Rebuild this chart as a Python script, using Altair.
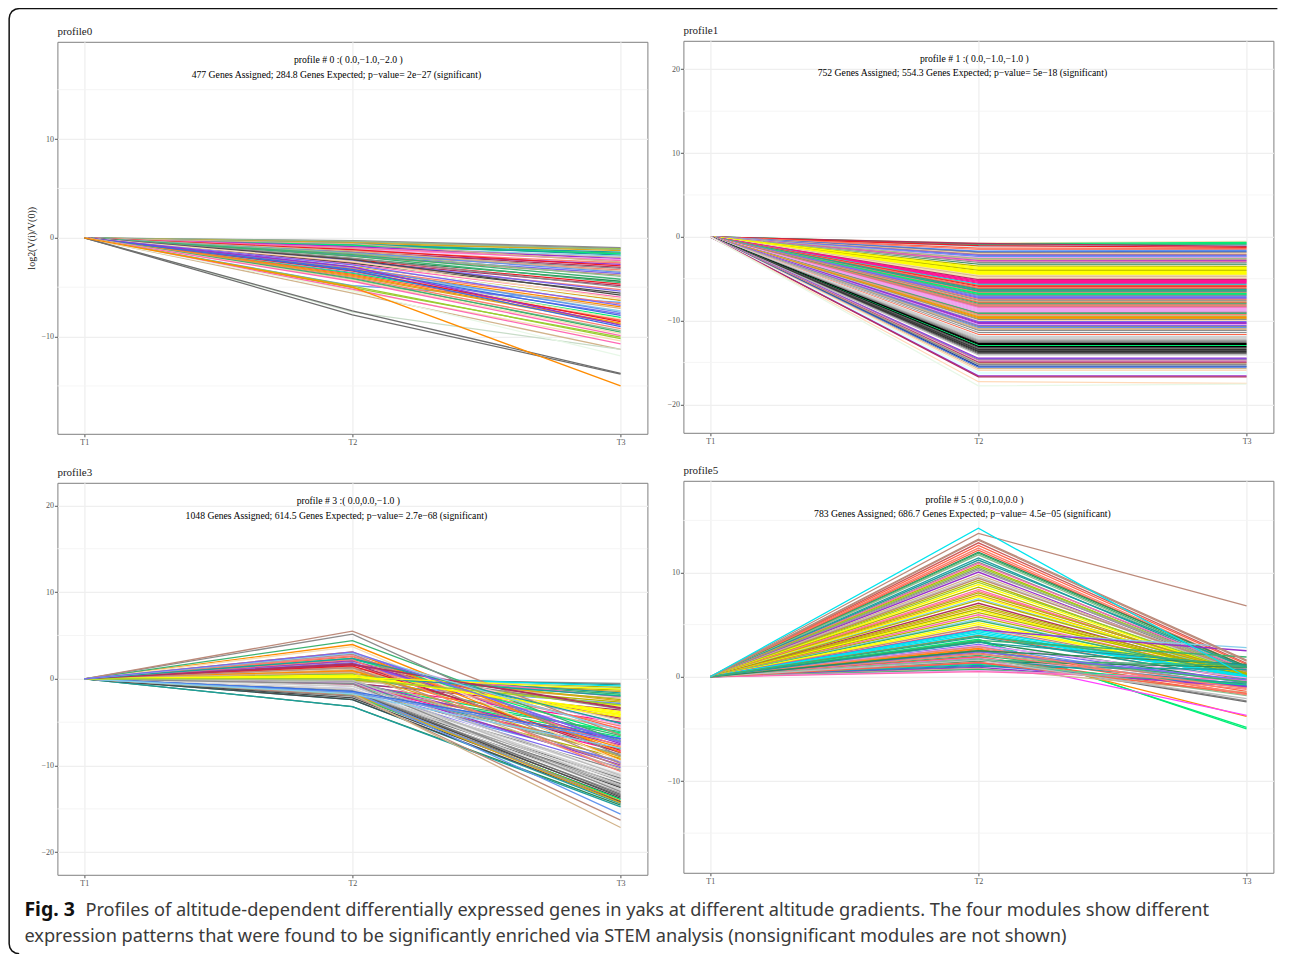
import altair as alt
import pandas as pd

TIMES = ["T1", "T2", "T3"]
SERIF = "Liberation Serif"

PALETTE = {
    "y": "#ffff00", "o": "#b5b500", "k": "#000000", "d": "#4a4a4a", "g": "#8c8c8c", "l": "#d0d0d0",
    "w": "#f0f0f0", "g1": "#bdbdbd", "g2": "#a0a0a0", "g3": "#6e6e6e", "g4": "#303030", "c": "#00e5ee",
    "t": "#1e9e9e", "n": "#00ee76", "m": "#3cb371", "p": "#ff1493", "h": "#ff69b4", "v": "#eea2ee",
    "u": "#9932cc", "s": "#7b68ee", "b": "#3a6fe0", "a": "#6495ed", "z": "#87ceeb", "r": "#ee1c25",
    "e": "#ff6347", "f": "#fa8072", "q": "#bc8a7a", "x": "#f5deb3", "i": "#d2b48c", "j": "#ff8c00",
    "G": "#daa520", "D": "#2e8b57", "O": "#8fbc8f", "M": "#b03060", "N": "#27408b", "L": "#9acd32",
    "C": "#e0ffff", "P": "#ffdab9", "A": "#c8dcc8", "B": "#e8f8e8", "E": "#cd5c5c", "H": "#ff40ff",
    "W": "#ffffff",
}

# each row: colour key, value at T2, value at T3 (T1 is always 0)
profile0 = [
    ("g",-0.28,-1.0),("g",-0.4,-1.08),("L",-0.7,-1.12),("O",-0.35,-1.2),("G",-0.5,-1.3),("t",-0.7,-1.45),
    ("m",-0.85,-1.55),("n",-0.75,-1.62),("t",-0.6,-1.75),("z",-0.95,-1.85),("i",-1.1,-1.98),("u",-0.9,-2.1),
    ("v",-1.2,-2.2),("h",-1.0,-2.32),("i",-0.6,-2.45),("f",-1.3,-2.55),("u",-1.5,-2.7),("r",-1.2,-2.85),
    ("M",-1.4,-3.0),("g",-1.6,-3.1),("f",-1.7,-3.25),("i",-1.35,-3.4),("a",-1.5,-3.5),("s",-1.8,-3.62),
    ("q",-1.9,-3.78),("O",-1.55,-3.9),("w",-2.0,-4.05),("m",-1.7,-4.2),("D",-2.1,-4.4),("m",-1.85,-4.55),
    ("r",-2.2,-4.7),("M",-2.4,-4.85),("g",-2.05,-5.0),("f",-2.5,-5.25),("s",-2.3,-5.4),("d",-2.6,-5.6),
    ("d",-2.2,-5.8),("h",-2.7,-6.0),("x",-2.4,-6.15),("G",-2.9,-6.35),("C",-2.8,-6.5),("a",-4.85,-6.55),
    ("f",-3.1,-6.7),("s",-2.75,-6.85),("j",-3.2,-7.0),("i",-3.4,-7.15),("z",-3.3,-7.4),("a",-3.0,-7.55),
    ("s",-3.5,-7.7),("b",-3.2,-7.85),("n",-3.6,-8.05),("x",-3.4,-8.2),("e",-3.7,-8.35),("r",-3.35,-8.5),
    ("j",-3.8,-8.65),("G",-3.9,-8.75),("u",-2.95,-8.85),("b",-3.3,-9.0),("f",-4.0,-9.2),("O",-4.2,-9.4),
    ("m",-4.1,-9.55),("x",-4.3,-9.7),("h",-4.4,-9.9),("L",-5.05,-10.05),("L",-4.9,-10.2),("x",-5.3,-10.45),
    ("h",-5.2,-10.75),("i",-5.6,-11.3),("A",-7.5,-11.3),("B",-5.4,-11.95),("g3",-7.4,-13.72),("g3",-7.8,-13.8),
    ("j",-5.0,-15.0),
]

profile1 = [
    ("x",-0.76,-0.56),("n",-0.85,-0.68),("n",-1.0,-0.8),("m",-0.9,-0.92),("z",-1.1,-1.03),("M",-0.8,-1.15),
    ("r",-1.05,-1.27),("e",-1.35,-1.39),("f",-1.5,-1.51),("a",-1.7,-1.63),("b",-1.8,-1.75),("g",-1.9,-1.87),
    ("P",-2.0,-1.99),("q",-2.1,-2.11),("s",-2.2,-2.23),("a",-2.35,-2.35),("v",-2.5,-2.47),("O",-2.6,-2.58),
    ("i",-2.7,-2.7),("u",-2.85,-2.82),("h",-2.9,-2.94),("g",-3.05,-3.06),("l",-3.2,-3.18),("D",-3.3,-3.3),
    ("w",-3.4,-3.42),("o",-3.5,-3.54),("y",-3.66,-3.66),("y",-3.78,-3.78),("y",-3.9,-3.9),("o",-4.02,-4.02),
    ("y",-4.14,-4.14),("y",-4.26,-4.26),("y",-4.38,-4.38),("y",-4.5,-4.5),("x",-4.62,-4.62),("i",-4.74,-4.74),
    ("x",-4.86,-4.86),("x",-4.98,-4.98),("M",-5.1,-5.1),("p",-5.22,-5.22),("p",-5.33,-5.33),("p",-5.45,-5.45),
    ("p",-5.57,-5.57),("c",-5.69,-5.69),("e",-5.81,-5.81),("r",-5.93,-5.93),("f",-6.05,-6.05),("e",-6.17,-6.17),
    ("t",-6.29,-6.29),("m",-6.41,-6.41),("t",-6.53,-6.53),("f",-6.65,-6.65),("n",-6.77,-6.77),("n",-6.89,-6.89),
    ("g",-7.0,-7.0),("a",-7.12,-7.12),("s",-7.24,-7.24),("s",-7.36,-7.36),("f",-7.48,-7.48),("g",-7.6,-7.6),
    ("i",-7.72,-7.72),("e",-7.84,-7.84),("m",-7.96,-7.96),("q",-8.08,-8.08),("f",-8.2,-8.2),("q",-8.32,-8.32),
    ("h",-8.44,-8.44),("v",-8.56,-8.56),("v",-8.68,-8.68),("v",-8.8,-8.8),("v",-8.92,-8.92),("g",-9.1,-9.04),
    ("m",-9.16,-9.16),("f",-9.28,-9.28),("i",-9.4,-9.4),("G",-9.52,-9.52),("j",-9.64,-9.64),("G",-9.76,-9.76),
    ("g",-9.88,-9.88),("x",-10.0,-10.0),("s",-10.12,-10.12),("u",-10.24,-10.24),("u",-10.36,-10.36),("v",-10.48,-10.48),
    ("s",-10.6,-10.6),("g",-10.72,-10.72),("a",-10.84,-10.84),("i",-10.96,-10.96),("i",-11.08,-11.08),("g",-11.2,-11.2),
    ("w",-11.32,-11.32),("g",-11.44,-11.44),("w",-11.56,-11.56),("e",-11.68,-11.68),("w",-11.8,-11.8),("l",-11.92,-11.92),
    ("l",-12.04,-12.04),("l",-12.16,-12.16),("g1",-12.28,-12.28),("g2",-12.4,-12.4),("g",-12.52,-12.52),("g3",-12.64,-12.64),
    ("k",-12.76,-12.76),("k",-12.88,-12.88),("n",-13.0,-13.0),("k",-13.12,-13.12),("d",-13.24,-13.24),("g3",-13.36,-13.36),
    ("g4",-13.48,-13.48),("d",-13.6,-13.6),("g4",-13.72,-13.72),("d",-13.84,-13.84),("g3",-13.96,-13.96),("g1",-14.08,-14.08),
    ("u",-14.5,-14.5),("s",-14.62,-14.62),("q",-14.74,-14.74),("v",-14.86,-14.86),("M",-14.98,-14.98),("i",-15.1,-15.1),
    ("g",-15.22,-15.22),("N",-15.45,-15.45),("b",-15.57,-15.57),("i",-15.75,-15.75),("P",-15.95,-15.95),("C",-16.2,-16.2),
    ("C",-16.32,-16.32),("u",-16.6,-16.6),("M",-16.72,-16.72),("P",-17.3,-17.5),("B",-17.8,-17.6),
]

profile3 = [
    ("g",-0.05,-0.54),("t",0.1,-0.7),("c",0.25,-0.85),("o",0.0,-1.0),("z",0.3,-1.16),("o",-0.2,-1.31),
    ("G",0.15,-1.47),("t",0.45,-1.62),("m",0.4,-1.78),("n",0.2,-1.93),("h",0.9,-2.08),("i",-0.3,-2.24),
    ("o",0.6,-2.39),("G",0.8,-2.55),("o",-0.1,-2.7),("a",-0.6,-2.85),("L",0.05,-3.01),("y",0.3,-3.16),
    ("M",1.65,-3.32),("g",1.2,-3.47),("M",-0.5,-3.62),("y",0.35,-3.78),("y",0.42,-3.93),("y",0.28,-4.09),
    ("y",0.5,-4.24),("x",1.1,-4.39),("M",1.6,-4.55),("q",2.0,-4.7),("x",2.4,-4.86),("p",-0.7,-5.01),
    ("t",2.25,-5.16),("v",2.75,-5.32),("f",1.4,-5.47),("v",-0.9,-5.63),("e",2.55,-5.78),("i",1.05,-5.93),
    ("m",-1.2,-6.09),("n",-0.55,-6.24),("n",2.35,-6.4),("m",0.55,-6.55),("n",-1.0,-6.7),("b",-1.45,-6.86),
    ("s",1.85,-7.01),("e",-0.8,-7.17),("s",3.0,-7.32),("u",2.1,-7.47),("u",-0.35,-7.63),("f",2.65,-7.78),
    ("j",0.95,-7.94),("t",-1.1,-8.09),("r",1.5,-8.24),("p",-0.65,-8.4),("M",1.75,-8.55),("g",-0.95,-8.71),
    ("O",-0.25,-8.86),("G",0.7,-9.01),("o",-1.3,-9.17),("j",3.1,-9.32),("a",-1.55,-9.48),("s",-1.05,-9.63),
    ("q",2.85,-9.78),("u",-0.45,-9.94),("q",1.3,-10.09),("s",-1.25,-10.25),("i",0.75,-10.4),("g",-1.6,-10.55),
    ("f",2.2,-10.71),("w",-0.75,-10.86),("l",-1.15,-11.02),("g1",-0.15,-11.17),("l",-1.4,-11.32),("g3",-1.7,-11.48),
    ("l",-0.85,-11.63),("g2",-1.5,-11.79),("w",-1.0,-11.94),("g3",-1.75,-12.09),("g1",-0.4,-12.25),("g2",-1.35,-12.4),
    ("d",-1.9,-12.56),("l",-1.2,-12.71),("l",-1.65,-12.86),("g",-0.6,-13.02),("g2",-1.8,-13.17),("g3",-1.45,-13.33),
    ("g3",-2.0,-13.48),("d",-1.55,-13.63),("d",-2.2,-13.79),("n",-1.85,-13.94),("j",-1.6,-14.1),("a",-1.5,-14.25),
    ("t",-2.4,-14.4),("D",-3.2,-14.56),("t",-3.2,-14.78),("d",-2.4,-14.2),("G",-1.7,-14.3),
    ("a",-1.45,-15.6),("q",-1.9,-16.3),("i",-1.75,-17.15),
    ("j",3.95,-8.5),("x",3.7,-9.5),("m",4.4,-7.2),("g",5.15,-8.9),("q",5.5,-6.5),
    ("b",-1.45,-6.9),("a",-1.6,-7.2),("z",-1.75,-8.0),("t",0.3,-2.0),("y",0.45,-4.4),("y",0.3,-4.1),
    ("y",0.2,-1.2),("L",0.0,-3.0),("M",1.65,-3.4),("t",2.35,-5.1),("z",2.95,-6.0),("s",3.1,-7.3),
]

profile5 = [
    ("E",12.85,1.3),("e",12.6,1.2),("f",12.35,1.0),("e",12.15,0.9),("D",11.95,1.0),("m",11.85,0.8),
    ("O",11.7,0.7),("t",11.4,0.6),("t",11.2,0.9),("g",11.0,0.5),("h",10.87,0.7),("o",10.7,0.4),
    ("L",10.55,0.5),("g",10.4,0.3),("g2",10.25,0.6),("u",10.05,0.2),("i",9.8,0.4),("g1",9.6,0.3),
    ("q",9.45,0.5),("o",9.25,0.1),("L",9.05,0.3),("y",8.85,0.2),("o",8.6,0.1),("h",8.35,0.1),
    ("f",8.2,0.2),("o",8.05,0.35),("G",7.85,0.1),("y",7.7,0.2),("z",7.5,0.15),("o",7.35,0.3),
    ("M",7.05,0.1),("o",6.85,0.2),("G",6.7,0.05),("o",6.5,0.15),("y",6.35,0.1),("o",6.15,0.25),
    ("h",5.95,0.05),("o",5.75,0.1),("z",5.55,-0.1),("m",5.4,0.1),("y",5.2,-0.05),("y",5.0,0.0),
    ("q",4.8,-0.1),("f",4.6,-0.15),("z",4.4,2.8),("u",4.5,2.5),("c",4.45,0.1),("c",4.3,-0.05),
    ("c",4.15,0.0),("c",4.0,0.05),("e",3.95,-0.3),("t",3.8,-0.2),("n",3.6,-5.0),("n",3.45,-4.85),
    ("m",3.5,1.9),("D",3.35,-0.5),("s",3.1,-0.6),("v",3.0,-0.1),("a",2.9,-0.9),("f",2.75,-1.0),
    ("e",2.6,-1.4),("j",2.7,-3.8),("q",2.45,-0.8),("e",2.3,-1.6),("O",2.2,-0.4),("m",2.05,-0.9),
    ("g",1.95,-2.3),("g3",1.85,-2.4),("e",1.9,-1.7),("v",1.8,-0.7),("H",1.8,-3.7),("m",1.6,1.1),
    ("D",1.5,0.9),("f",1.4,-1.2),("s",1.3,-1.0),("n",1.2,-0.8),("b",1.1,-0.9),("t",1.0,0.7),
    ("u",0.9,-0.95),("i",0.8,-1.5),("m",0.7,-0.6),("v",0.6,-0.35),("h",0.5,-0.3),
    ("m",2.5,-0.5),("t",1.7,-0.7),("f",2.2,-1.1),("s",2.4,-0.3),("O",1.75,-1.8),("e",1.35,-1.6),
    ("g1",1.6,-2.1),("f",2.9,-1.7),("D",2.5,1.2),("t",3.3,1.1),("m",3.9,0.9),
    ("q",13.2,1.6),("q",13.1,1.5),("q",13.75,6.8),("c",14.25,0.0),
]

LINE_0 = ["profile # 0 :( 0.0,−1.0,−2.0 )", "477 Genes Assigned; 284.8 Genes Expected; p−value= 2e−27 (significant)"]
LINE_1 = ["profile # 1 :( 0.0,−1.0,−1.0 )", "752 Genes Assigned; 554.3 Genes Expected; p−value= 5e−18 (significant)"]
LINE_3 = ["profile # 3 :( 0.0,0.0,−1.0 )", "1048 Genes Assigned; 614.5 Genes Expected; p−value= 2.7e−68 (significant)"]
LINE_5 = ["profile # 5 :( 0.0,1.0,0.0 )", "783 Genes Assigned; 686.7 Genes Expected; p−value= 4.5e−05 (significant)"]

CAPTION_BOLD = "Fig. 3"
CAPTION_1 = "Profiles of altitude-dependent differentially expressed genes in yaks at different altitude gradients. The four modules show different"
CAPTION_2 = "expression patterns that were found to be significantly enriched via STEM analysis (nonsignificant modules are not shown)"

# outline of the rounded page frame (open on the right and at the bottom), in page pixels
FRAME_X = [19.75, 15.9, 12.6, 10.5, 9.75, 9.75, 10.5, 12.6, 15.9, 19.75, 1278]
FRAME_Y = [953, 952.2, 950.1, 946.8, 943, 17.75, 13.9, 10.6, 8.5, 7.75, 7.75]

W, H = 590, 392
ONE_ROW = pd.DataFrame({"a": [0]})
# page position of the caption chart's origin
CAP_X, CAP_Y = 58, 923


def frame_of(rows):
    out = []
    for i, (c, t2, t3) in enumerate(rows):
        for t, v in zip(TIMES, (0.0, t2, t3)):
            out.append({"id": i, "t": t, "v": v, "c": PALETTE[c]})
    return pd.DataFrame(out)


def panel(rows, name, lines, lim, ticks, minor, ytitle=None, top=(18.0, 16.5)):
    x = alt.X("t:N", scale=alt.Scale(type="point", padding=0.1, domain=TIMES),
              axis=alt.Axis(title=None, labelAngle=0, labelFont=SERIF, labelFontSize=8, labelColor="#555555",
                            tickColor="#555555", tickSize=3, domain=False, gridColor="#efefef", gridWidth=1.3,
                            grid=True, labelPadding=2))
    y = alt.Y("v:Q", scale=alt.Scale(domain=[-lim, lim], nice=False),
              axis=alt.Axis(title=ytitle, values=ticks, labelFont=SERIF, labelFontSize=8, labelColor="#555555",
                            tickColor="#555555", tickSize=3, domain=False, gridColor="#efefef", gridWidth=1.3,
                            grid=True, labelPadding=1, titleFont=SERIF, titleFontSize=10,
                            titleFontWeight="normal", titleColor="#111111", titlePadding=4))
    grid = alt.Chart(pd.DataFrame({"v": minor})).mark_rule(color="#f4f4f4", strokeWidth=0.9).encode(y=y)
    base = alt.Chart(frame_of(rows)).mark_line(strokeWidth=1.3).encode(
        x=x, y=y, detail="id:Q", color=alt.Color("c:N", scale=None))
    ann = []
    for txt, val, dx in ((lines[0], top[0], -4), (lines[1], top[1], -16)):
        ann.append(alt.Chart(pd.DataFrame({"v": [val], "s": [txt], "t": ["T2"]})).mark_text(
            font=SERIF, fontSize=9.7, color="#000000", dx=dx).encode(x=x, y=y, text="s:N"))
    return alt.layer(grid, base, *ann).properties(
        width=W, height=H,
        title=alt.TitleParams(name, anchor="start", frame="group", font=SERIF, fontSize=11, fontWeight="normal",
                              color="#222222", offset=5),
        view=alt.ViewBackground(stroke="#7f7f7f", strokeWidth=1))


def blank(w=1, h=1):
    return alt.Chart(ONE_ROW).mark_text(text="").encode(
        x=alt.value(0)).properties(width=w, height=h, view=alt.ViewBackground(stroke=None))


pa = panel(profile0, "profile0", LINE_0, 19.85, [-10, 0, 10], [-15, -5, 5, 15], "log2(V(i)/V(0))", (18.0, 16.5))
pb = panel(profile1, "profile1", LINE_1, 23.4, [-20, -10, 0, 10, 20], [-15, -5, 5, 15], None, (21.2, 19.5))
pc = panel(profile3, "profile3", LINE_3, 22.6, [-20, -10, 0, 10, 20], [-15, -5, 5, 15], None, (20.5, 18.8))
pd_ = panel(profile5, "profile5", LINE_5, 18.8, [-10, 0, 10], [-15, -5, 5, 15], None, (17.0, 15.6))

outline = pd.DataFrame({"px": [v - CAP_X for v in FRAME_X], "py": [v - CAP_Y for v in FRAME_Y],
                        "n": list(range(len(FRAME_X)))})
border = alt.Chart(outline).mark_line(color="#111111", strokeWidth=1.5).encode(
    x=alt.X("px:Q", scale=None, axis=None), y=alt.Y("py:Q", scale=None, axis=None), order="n:Q")

cap = alt.layer(
    border,
    alt.Chart(ONE_ROW).mark_text(text=CAPTION_BOLD, font="Noto Sans", fontSize=19.5, fontWeight="bold", align="left",
                                 baseline="alphabetic", color="#111111").encode(x=alt.value(25 - CAP_X), y=alt.value(915 - CAP_Y)),
    alt.Chart(ONE_ROW).mark_text(text=CAPTION_1, font="Noto Sans", fontSize=18.2, align="left",
                                 baseline="alphabetic", color="#3a3a3a").encode(x=alt.value(86 - CAP_X), y=alt.value(915 - CAP_Y)),
    alt.Chart(ONE_ROW).mark_text(text=CAPTION_2, font="Noto Sans", fontSize=18.2, align="left",
                                 baseline="alphabetic", color="#3a3a3a").encode(x=alt.value(25 - CAP_X), y=alt.value(941 - CAP_Y)),
).properties(width=1, height=1, view=alt.ViewBackground(stroke=None))

left = alt.vconcat(pa, pc, cap, spacing=49, bounds="flush")
left = alt.vconcat(blank(1, 1), left, spacing=0, bounds="flush")
right = alt.vconcat(pb, pd_, spacing=48, bounds="flush")

chart = alt.hconcat(left, right, spacing=626, bounds="flush").properties(
    padding={"left": -2.6, "top": -3.2, "right": 0, "bottom": 0}).configure(background="#ffffff")

chart.save("out.html", embed_options={"renderer": "svg", "actions": False})
